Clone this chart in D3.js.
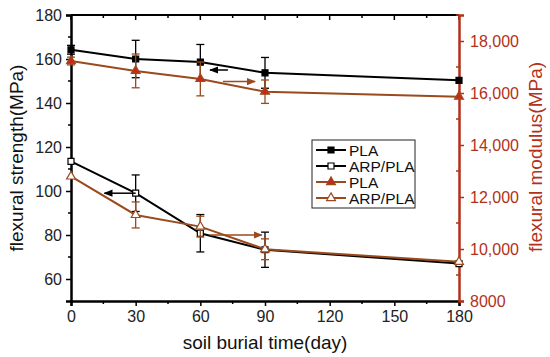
<!DOCTYPE html>
<html>
<head>
<meta charset="utf-8">
<script src="https://cdn.jsdelivr.net/npm/d3@7"></script>
<style>
body { margin: 0; background: #fff; }
text { font-family: "Liberation Sans", Arial, sans-serif; }
</style>
</head>
<body>
<svg id="chart" width="550" height="357"></svg>
<script>
// soil burial time (day)
const days = [0, 30, 60, 90, 180]
const xTicks = [0, 30, 60, 90, 120, 150, 180]

// flexural strength (MPa) - left axis
const strengthPLA = [164.2, 160, 158.6, 153.7, 150.3]
const strengthPLAErr = [2, 8.5, 8, 7, 0]
const strengthARP = [113.5, 99, 80.8, 73.3, 67]
const strengthARPErr = [0, 8.3, 8.5, 8, 0]

// flexural modulus (MPa) - right axis
const modulusPLA = [17230, 16850, 16540, 16050, 15860]
const modulusPLAErr = [150, 650, 650, 450, 0]
const modulusARP = [12790, 11310, 10860, 9990, 9510]
const modulusARPErr = [0, 500, 400, 400, 0]

const leftTicks = [60, 80, 100, 120, 140, 160, 180]
const rightTicks = [8000, 10000, 12000, 14000, 16000, 18000]

const black = "#000"
const brown = "#9a4a1c"
const red = "#b3301a"
const markRed = "#c8281c"

const svg = d3.select("#chart")
const m = { left: 71, right: 459, top: 15, bottom: 301 }

const x = d3.scaleLinear().domain([0, 180]).range([m.left, m.right])
const yL = d3.scaleLinear().domain([50, 180]).range([m.bottom, m.top])
const yR = d3.scaleLinear().domain([8000, 19000]).range([m.bottom, m.top])

// frame
svg.append("line").attr("x1", m.left).attr("x2", m.right).attr("y1", m.top).attr("y2", m.top)
	.attr("stroke", black).attr("stroke-width", 2)

// top axis ticks (inward)
svg.append("g").selectAll("line")
	.data(d3.range(0, 181, 15))
	.join("line")
	.attr("x1", d => x(d)).attr("x2", d => x(d))
	.attr("y1", m.top).attr("y2", d => m.top + (d % 30 === 0 ? 5 : 3))
	.attr("stroke", black).attr("stroke-width", 1.5)

// bottom axis
const xAxis = svg.append("g")
	.attr("transform", `translate(0,${m.bottom})`)
	.call(d3.axisBottom(x).tickValues(xTicks).tickSize(5).tickPadding(5))
xAxis.select(".domain").attr("stroke-width", 2.5)
xAxis.selectAll(".tick line").attr("stroke-width", 1.5)
xAxis.selectAll("text").attr("font-size", 16).attr("fill", "#222")
svg.append("g").attr("transform", `translate(0,${m.bottom})`)
	.selectAll("line").data(d3.range(15, 180, 30)).join("line")
	.attr("x1", d => x(d)).attr("x2", d => x(d)).attr("y1", 0).attr("y2", 3)
	.attr("stroke", black).attr("stroke-width", 1.5)

// left axis
const lAxis = svg.append("g")
	.attr("transform", `translate(${m.left},0)`)
	.call(d3.axisLeft(yL).tickValues(leftTicks).tickSize(5).tickPadding(4))
lAxis.select(".domain").attr("stroke-width", 2.5)
lAxis.selectAll(".tick line").attr("stroke-width", 1.5)
lAxis.selectAll("text").attr("font-size", 16).attr("fill", "#222")
svg.append("g").attr("transform", `translate(${m.left},0)`)
	.selectAll("line").data(d3.range(70, 180, 20)).join("line")
	.attr("x1", 0).attr("x2", -3).attr("y1", d => yL(d)).attr("y2", d => yL(d))
	.attr("stroke", black).attr("stroke-width", 1.5)

// right axis
const rAxis = svg.append("g")
	.attr("transform", `translate(${m.right},0)`)
	.call(d3.axisRight(yR).tickValues(rightTicks).tickSize(5).tickPadding(6)
		.tickFormat(d => d >= 10000 ? d3.format(",")(d) : String(d)))
rAxis.select(".domain").attr("stroke", red).attr("stroke-width", 2.5)
rAxis.selectAll(".tick line").attr("stroke", red).attr("stroke-width", 1.5)
rAxis.selectAll("text").attr("font-size", 16).attr("fill", red)
svg.append("g").attr("transform", `translate(${m.right},0)`)
	.selectAll("line").data(d3.range(9000, 19001, 2000)).join("line")
	.attr("x1", 0).attr("x2", -3).attr("y1", d => yR(d)).attr("y2", d => yR(d))
	.attr("stroke", red).attr("stroke-width", 1.5)

// axis titles
svg.append("text")
	.attr("transform", "translate(23,158) rotate(-90)")
	.attr("text-anchor", "middle").attr("font-size", 19).attr("fill", "#111")
	.text("flexural strength(MPa)")
svg.append("text")
	.attr("transform", "translate(542,157) rotate(-90)")
	.attr("text-anchor", "middle").attr("font-size", 19).attr("fill", red)
	.text("flexural modulus(MPa)")
svg.append("text")
	.attr("x", 265).attr("y", 349)
	.attr("text-anchor", "middle").attr("font-size", 19).attr("fill", "#111")
	.text("soil burial time(day)")

const series = [
	{ values: strengthPLA, err: strengthPLAErr, y: yL, color: black, mark: "square", fill: black },
	{ values: strengthARP, err: strengthARPErr, y: yL, color: black, mark: "square", fill: "#fff" },
	{ values: modulusPLA, err: modulusPLAErr, y: yR, color: brown, mark: "triangle", fill: markRed },
	{ values: modulusARP, err: modulusARPErr, y: yR, color: brown, mark: "triangle", fill: "#fff" }
]

const symbolFor = s => d3.symbol()
	.type(s.mark === "square" ? d3.symbolSquare : d3.symbolTriangle)
	.size(s.mark === "square" ? 36 : 34)

series.forEach(s => {
	const pts = days.map((d, i) => ({ d, v: s.values[i], e: s.err[i] }))
	const g = svg.append("g")
	// error bars
	const eb = g.selectAll(".err").data(pts.filter(p => p.e > 0)).join("g")
	eb.append("line")
		.attr("x1", p => x(p.d)).attr("x2", p => x(p.d))
		.attr("y1", p => s.y(p.v - p.e)).attr("y2", p => s.y(p.v + p.e))
		.attr("stroke", s.color).attr("stroke-width", 1.3)
	eb.selectAll(".cap").data(p => [p.v - p.e, p.v + p.e].map(v => ({ d: p.d, v }))).join("line")
		.attr("x1", p => x(p.d) - 4).attr("x2", p => x(p.d) + 4)
		.attr("y1", p => s.y(p.v)).attr("y2", p => s.y(p.v))
		.attr("stroke", s.color).attr("stroke-width", 1.3)
	g.append("path")
		.datum(pts)
		.attr("fill", "none").attr("stroke", s.color).attr("stroke-width", 2)
		.attr("d", d3.line().x(p => x(p.d)).y(p => s.y(p.v)))
	g.selectAll(".mk").data(pts).join("path")
		.attr("transform", p => `translate(${x(p.d)},${s.y(p.v)})`)
		.attr("d", symbolFor(s)())
		.attr("fill", s.fill).attr("stroke", s.color).attr("stroke-width", 1.2)
})

// arrows pointing to the matching axis
const defs = svg.append("defs")
;[["ah-black", black], ["ah-brown", brown]].forEach(([id, c]) => {
	defs.append("marker").attr("id", id).attr("viewBox", "0 0 10 10")
		.attr("refX", 9).attr("refY", 5).attr("markerWidth", 6).attr("markerHeight", 6)
		.attr("orient", "auto-start-reverse")
		.append("path").attr("d", "M0,1 L10,5 L0,9 z").attr("fill", c)
})
const arrows = [
	{ from: [30, 99], to: [15.5, 99], y: yL, id: "ah-black", c: black },
	{ from: [72.8, 155], to: [64.5, 155], y: yL, id: "ah-black", c: black },
	{ from: [70.5, 16440], to: [85.4, 16440], y: yR, id: "ah-brown", c: brown },
	{ from: [64.4, 10540], to: [88.5, 10540], y: yR, id: "ah-brown", c: brown }
]
svg.append("g").selectAll("line").data(arrows).join("line")
	.attr("x1", a => x(a.from[0])).attr("y1", a => a.y(a.from[1]))
	.attr("x2", a => x(a.to[0])).attr("y2", a => a.y(a.to[1]))
	.attr("stroke", a => a.c).attr("stroke-width", 1.5)
	.attr("marker-end", a => `url(#${a.id})`)

// legend
const legendNames = ["PLA", "ARP/PLA", "PLA", "ARP/PLA"]
const lg = svg.append("g").attr("transform", "translate(312,140)")
lg.append("rect").attr("width", 103).attr("height", 68)
	.attr("fill", "#fff").attr("stroke", "#222").attr("stroke-width", 1)
const items = lg.selectAll(".item").data(series).join("g")
	.attr("transform", (s, i) => `translate(0,${10 + i * 16})`)
items.append("line").attr("x1", 4).attr("x2", 34).attr("y1", 0).attr("y2", 0)
	.attr("stroke", s => s.color).attr("stroke-width", 2)
items.append("path").attr("transform", "translate(19,0)")
	.attr("d", s => symbolFor(s)())
	.attr("fill", s => s.fill).attr("stroke", s => s.color).attr("stroke-width", 1.2)
items.append("text").attr("x", 37).attr("y", 5.5)
	.attr("font-size", 15.5).attr("fill", "#111")
	.text((s, i) => legendNames[i])
</script>
</body>
</html>
